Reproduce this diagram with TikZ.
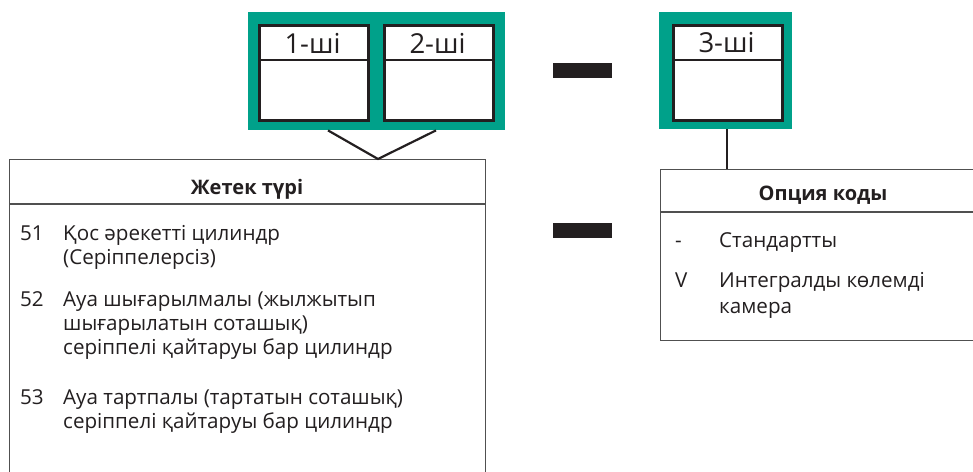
\documentclass[tikz,border=0pt]{standalone}
\usepackage{fontspec}
\setmainfont{Open Sans}
\definecolor{hpegreen}{RGB}{0,161,138}
\definecolor{celldark}{RGB}{35,31,32}
\definecolor{framegray}{RGB}{80,80,80}
\definecolor{textdark}{RGB}{35,31,32}
\tikzset{
  greenframe/.style={fill=hpegreen, draw=none, inner sep=0pt, anchor=north west},
  cellbox/.style={draw=celldark, line width=2.6pt, fill=white, inner sep=0pt, anchor=north west},
  infobox/.style={draw=framegray, line width=1.4pt, fill=white, inner sep=0pt, anchor=north west},
  divider/.style={draw=framegray, line width=1.4pt},
  celldiv/.style={draw=celldark, line width=2.2pt},
  conn/.style={draw=celldark, line width=2.2pt},
  dashbar/.style={fill=celldark, draw=none, inner sep=0pt, minimum width=59pt, minimum height=15pt, anchor=north west},
  celllabel/.style={font=\fontsize{27.5}{30}\selectfont, text=textdark, inner sep=0pt},
  headtext/.style={font=\fontsize{20}{22}\selectfont\bfseries, text=textdark, inner sep=0pt},
  bodytext/.style={font=\fontsize{20.6}{24}\selectfont, text=textdark, inner sep=0pt, anchor=base west}
}
\begin{document}
\begin{tikzpicture}[x=1pt,y=-1pt]
\useasboundingbox (0,0) rectangle (973,471);
\clip (0,0) rectangle (973,471);

% green frames and cells
\node[greenframe, minimum width=257pt, minimum height=118pt] (g1) at (248,12) {};
\node[cellbox, minimum width=109pt, minimum height=95pt] (c1) at (258,24) {};
\node[cellbox, minimum width=109pt, minimum height=95pt] (c2) at (383,24) {};
\node[greenframe, minimum width=133pt, minimum height=117pt] (g3) at (659,12) {};
\node[cellbox, minimum width=109pt, minimum height=95pt] (c3) at (672,24) {};
\draw[celldiv] (258,60) -- (367,60);
\draw[celldiv] (383,60) -- (492,60);
\draw[celldiv] (672,60) -- (781,60);
\node[celllabel] (l1) at (312.5,43) {1-ші};
\node[celllabel] (l2) at (437.5,43) {2-ші};
\node[celllabel] (l3) at (726.5,43) {3-ші};

% dashes
\node[dashbar] (d1) at (553,63) {};
\node[dashbar] (d2) at (553,223) {};

% left info box
\node[infobox, minimum width=476pt, minimum height=360pt] (lb) at (9,159) {};
\draw[divider] (lb.west |- 0,204) -- (lb.east |- 0,204);
\node[headtext] (h1) at (247,189) {Жетек түрі};

% right info box
\node[infobox, minimum width=330pt, minimum height=171pt] (rb) at (660,169) {};
\draw[divider] (rb.west |- 0,212) -- (rb.east |- 0,212);
\node[headtext] (h2) at (823,195) {Опция коды};

% connectors
\coordinate (apex) at (378,159);
\draw[conn] (g1.south -| 328,0) -- (apex) -- (g1.south -| 436,0);
\draw[conn] (g3.south -| 727,0) -- (rb.north -| 727,0);

% left items
\node[bodytext] (n51) at (20,240) {51};
\node[bodytext] (t51a) at (63,240) {Қос әрекетті цилиндр};
\node[bodytext] (t51b) at (63,264) {(Серіппелерсіз)};
\node[bodytext] (n52) at (20,306) {52};
\node[bodytext] (t52a) at (63,306) {Ауа шығарылмалы (жылжытып};
\node[bodytext] (t52b) at (63,330) {шығарылатын соташық)};
\node[bodytext] (t52c) at (63,354) {серіппелі қайтаруы бар цилиндр};
\node[bodytext] (n53) at (20,404) {53};
\node[bodytext] (t53a) at (63,404) {Ауа тартпалы (тартатын соташық)};
\node[bodytext] (t53b) at (63,428) {серіппелі қайтаруы бар цилиндр};

% right items
\node[bodytext] (nm) at (675,247) {-};
\node[bodytext] (tm) at (719,247) {Стандартты};
\node[bodytext] (nv) at (675,287) {V};
\node[bodytext] (tv1) at (719,287) {Интегралды көлемді};
\node[bodytext] (tv2) at (719,313) {камера};
\end{tikzpicture}
\end{document}
